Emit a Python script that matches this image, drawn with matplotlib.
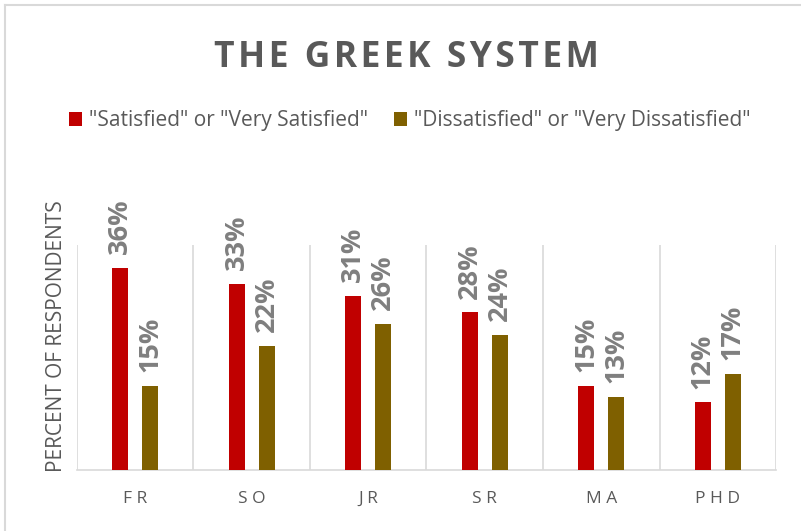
import matplotlib
matplotlib.use("Agg")
import matplotlib.pyplot as plt
from matplotlib.lines import Line2D
import numpy as np

# ================================
# DATA
# ================================

categories = ["FR", "SO", "JR", "SR", "MA", "PHD"]
satisfied = [36, 33, 31, 28, 15, 12]
dissatisfied = [15, 22, 26, 24, 13, 17]
series_names = ['"Satisfied" or "Very Satisfied"', '"Dissatisfied" or "Very Dissatisfied"']
title = "THE GREEK SYSTEM"

# ================================
# STYLE
# ================================

plt.rcParams['font.family'] = ['Open Sans', 'DejaVu Sans']
red = "#C00000"
olive = "#7F6000"
text_grey = "#595959"
label_grey = "#7F7F7F"
line_grey = "#D9D9D9"

fig = plt.figure(figsize=(8.01, 5.31), dpi=100)
ax = fig.add_axes([0.0961, 0.1149, 0.8727, 0.4237])

x = np.arange(len(categories))
width = 0.137
offset = 0.129

b1 = ax.bar(x - offset, satisfied, width, color=red, label=series_names[0], zorder=3)
b2 = ax.bar(x + offset, dissatisfied, width, color=olive, label=series_names[1], zorder=3)

for bars, vals in [(b1, satisfied), (b2, dissatisfied)]:
    for bar, v in zip(bars, vals):
        ax.annotate(f"{v}%",
                    (bar.get_x() + bar.get_width() / 2, bar.get_height()),
                    xytext=(0, 10), textcoords="offset points",
                    ha="center", va="bottom", rotation=90,
                    fontsize=19.5, fontweight="bold", color=label_grey)

# separators between categories
ax.vlines(np.arange(len(categories) + 1) - 0.5, 0, 40, color=line_grey, lw=1.2, zorder=1)

ax.set_xlim(-0.5, len(categories) - 0.5)
ax.set_ylim(0, 40)
ax.set_yticks([])
ax.set_xticks(x)
ax.set_xticklabels([" ".join(c) for c in categories], fontsize=12.5, color=text_grey)
ax.tick_params(axis="x", length=0, pad=15)
for side in ["top", "right", "left"]:
    ax.spines[side].set_visible(False)
ax.spines["bottom"].set_color(line_grey)
ax.spines["bottom"].set_linewidth(1.2)

ax.set_ylabel("PERCENT OF RESPONDENTS", fontsize=15, color=text_grey, va="center")
ax.yaxis.set_label_coords(-0.0286, 0.596)

fig.text(406 / 801, 1 - 67 / 531, "\u200a".join(title), ha="center", va="baseline",
         fontsize=25.5, fontweight="bold", color=text_grey)

fig.legend(loc="center", bbox_to_anchor=(410 / 801, 1 - 121 / 531), ncol=2,
           frameon=False, fontsize=15, labelcolor=text_grey,
           handlelength=0.62, handleheight=0.62, handletextpad=0.35,
           columnspacing=1.25, borderpad=0)

# chart area border (cropped on right and bottom)
fig.add_artist(Line2D([5 / 801, 5 / 801], [0, 1 - 5 / 531], transform=fig.transFigure,
                      color=line_grey, lw=1.5))
fig.add_artist(Line2D([5 / 801, 1], [1 - 5 / 531, 1 - 5 / 531], transform=fig.transFigure,
                      color=line_grey, lw=1.5))

fig.savefig("out.png", dpi=100)
